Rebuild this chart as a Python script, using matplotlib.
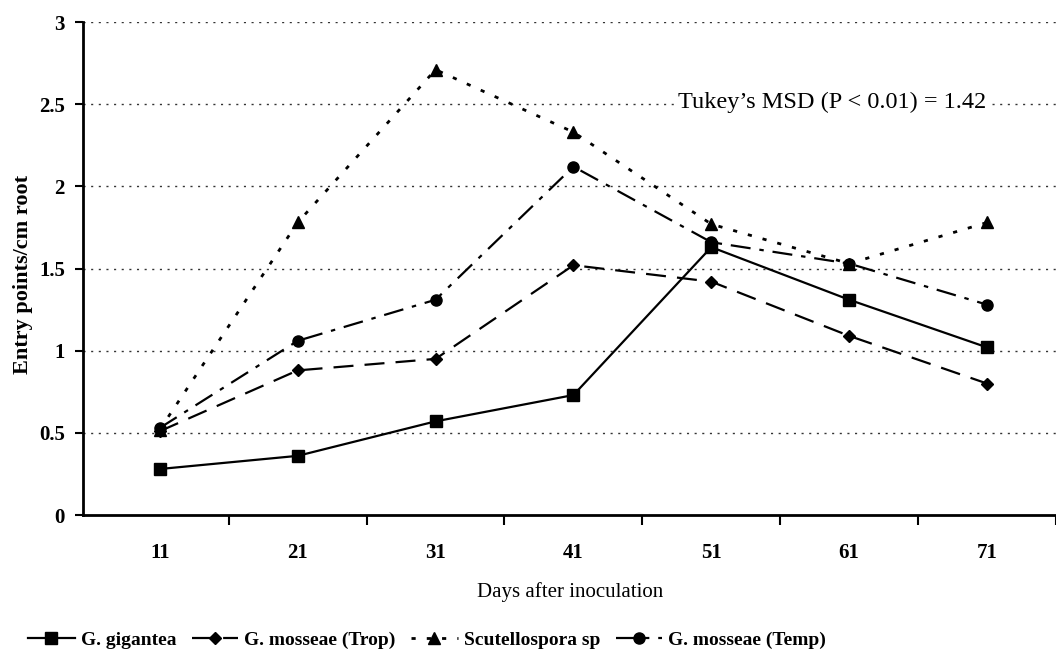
import matplotlib.pyplot as plt

dias = ["11", "21", "31", "41", "51", "61", "71"]
gigantea = [0.28, 0.36, 0.57, 0.73, 1.63, 1.31, 1.02]
mosseae_trop = [0.51, 0.88, 0.95, 1.52, 1.42, 1.09, 0.80]
scutellospora = [0.52, 1.78, 2.71, 2.33, 1.77, 1.53, 1.78]
mosseae_temp = [0.53, 1.06, 1.31, 2.12, 1.66, 1.53, 1.28]
yticks = [0, 0.5, 1, 1.5, 2, 2.5, 3]
yticklabels = ["0", "0.5", "1", "1.5", "2", "2.5", "3"]

plt.rcParams['font.family'] = ['Liberation Serif', 'DejaVu Serif']

fig = plt.figure(figsize=(10.56, 6.53), dpi=100)
ax = fig.add_axes([0.0786, 0.2113, 0.9214, 0.755])

x = list(range(1, len(dias) + 1))
lw = 1.6
ax.plot(x, gigantea, color='black', linestyle='-', lw=lw, marker='s', ms=8, label='G. gigantea')
ax.plot(x, mosseae_trop, color='black', linestyle=(0, (9, 5)), lw=lw, marker='D', ms=6, label='G. mosseae (Trop)')
ax.plot(x, scutellospora, color='black', linestyle=(0, (1.5, 4)), lw=2, marker='^', ms=8, label='Scutellospora sp')
ax.plot(x, mosseae_temp, color='black', linestyle=(0, (9, 4, 2, 4)), lw=lw, marker='o', ms=8, label='G. mosseae (Temp)')

# lineas de referencia punteadas
for v in yticks[1:]:
    ax.axhline(v, color='#333333', linestyle=(0, (1.5, 4)), lw=1, zorder=0)

ax.set_xlim(0.443, 7.477)
ax.set_ylim(0, 3)
ax.set_xticks(x)
ax.set_xticklabels(dias, fontsize=15, fontweight='bold')
ax.tick_params(axis='x', which='major', length=0, pad=20)
ax.set_xticks([i + 0.5 for i in x], minor=True)
ax.tick_params(axis='x', which='minor', length=7, width=1.5, direction='out')
ax.set_yticks(yticks)
ax.set_yticklabels(yticklabels, fontsize=15, fontweight='bold')
ax.tick_params(axis='y', length=6, width=1.5, direction='out', pad=7)

for s in ['top', 'right']:
    ax.spines[s].set_visible(False)
ax.spines['left'].set_linewidth(2)
ax.spines['bottom'].set_linewidth(2)

fig.text(23 / 1056, 1 - 274 / 653, "Entry points/cm root", fontsize=16, fontweight='bold',
         rotation=90, ha='center', va='center')
fig.text(570 / 1056, 1 - 592 / 653, "Days after inoculation", fontsize=15, ha='center', va='center')

ax.text(4.76, 2.51, "Tukey\u2019s MSD (P < 0.01) = 1.42", fontsize=17.5, ha='left', va='center',
        bbox=dict(facecolor='white', edgecolor='none', pad=1))

fig.legend(loc='center', bbox_to_anchor=(427 / 1056, 1 - 640 / 653), ncol=4, frameon=False,
           prop={'weight': 'bold', 'size': 14}, handlelength=2.4, handletextpad=0.3, columnspacing=0.8)

fig.savefig("out.png", dpi=100)
